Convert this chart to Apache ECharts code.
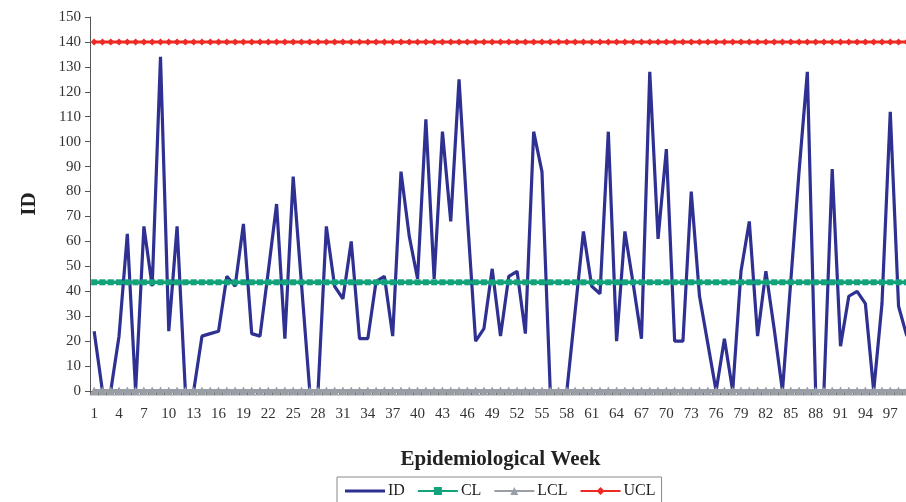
<!DOCTYPE html>
<html>
<head>
<meta charset="utf-8">
<script src="https://cdn.jsdelivr.net/npm/echarts@6/dist/echarts.min.js"></script>
<style>
html,body{margin:0;padding:0;background:#fff;overflow:hidden;}
#wrap{width:906px;height:502px;overflow:hidden;position:relative;}
#chart{width:920px;height:502px;position:absolute;left:0;top:0;}
</style>
</head>
<body>
<div id="wrap"><div id="chart"></div></div>
<script>
var weeks = [];
for (var w = 1; w <= 99; w++) weeks.push(String(w));

var idValues = [
  24, 0, 0, 22, 63, 0, 66, 42, 134, 24,
  66, 0, 0, 22, 23, 24, 46, 42, 67, 23,
  22, 48, 75, 21, 86, 43, 0, 0, 66, 42,
  37, 60, 21, 21, 44, 46, 22, 88, 62, 45,
  109, 45, 104, 68, 125, 70, 20, 25, 49, 22,
  46, 48, 23, 104, 88, 0, 0, 0, 32, 64,
  42, 39, 104, 20, 64, 43, 21, 128, 61, 97,
  20, 20, 80, 38, 19, 0, 21, 0, 48, 68,
  22, 48, 25, 0, 44, 88, 128, 0, 0, 89,
  18, 38, 40, 35, 0, 35, 112, 34, 22
];
var clValue = 43.6;
var lclValue = 0;
var uclValue = 140;
var yTicks = { min: 0, max: 150, interval: 10 };

function constant(v) { return weeks.map(function () { return v; }); }

var serif = '"Liberation Serif","Times New Roman",serif';
var chart = echarts.init(document.getElementById('chart'));
chart.setOption({
  animation: false,
  backgroundColor: '#ffffff',
  grid: { left: 90, right: 9, top: 17, bottom: 111, containLabel: false },
  legend: {
    top: 477,
    left: 337,
    data: [
      { name: 'ID', icon: 'path://M0,0L40,0L40,3.2L0,3.2Z' },
      'CL', 'LCL', 'UCL'
    ],
    itemWidth: 40,
    itemHeight: 10,
    itemGap: 12,
    borderColor: '#8a8a8a',
    borderWidth: 1,
    padding: [6, 6, 10, 8],
    textStyle: { fontFamily: serif, fontSize: 16, color: '#222', padding: [0, 0, 0, -2] }
  },
  xAxis: {
    type: 'category',
    data: weeks,
    boundaryGap: true,
    name: 'Epidemiological Week',
    nameLocation: 'middle',
    nameGap: 58,
    nameTextStyle: { fontFamily: serif, fontSize: 21, fontWeight: 'bold', color: '#222' },
    axisLine: { show: true, lineStyle: { color: '#555', width: 1 } },
    axisTick: { show: true, alignWithLabel: false, interval: 0, length: 4, lineStyle: { color: '#555' } },
    axisLabel: { interval: 2, fontFamily: serif, fontSize: 15, color: '#333', margin: 16 },
    splitLine: { show: false }
  },
  yAxis: {
    type: 'value',
    min: yTicks.min,
    max: yTicks.max,
    interval: yTicks.interval,
    name: 'ID',
    nameLocation: 'middle',
    nameGap: 50,
    nameRotate: 90,
    nameTextStyle: { fontFamily: serif, fontSize: 21, fontWeight: 'bold', color: '#222' },
    axisLine: { show: true, lineStyle: { color: '#555', width: 1 } },
    axisTick: { show: true, length: 5, lineStyle: { color: '#555' } },
    axisLabel: { fontFamily: serif, fontSize: 15, color: '#333', margin: 9 },
    splitLine: { show: false }
  },
  series: [
    {
      name: 'ID', type: 'line', data: idValues,
      showSymbol: false, symbol: 'none',
      lineStyle: { color: '#2e3192', width: 3.2 },
      itemStyle: { color: '#2e3192' },
      z: 3
    },
    {
      name: 'CL', type: 'line', data: constant(clValue),
      symbol: 'rect', symbolSize: 6, showAllSymbol: true,
      lineStyle: { color: '#13a37a', width: 3.5 },
      itemStyle: { color: '#13a37a' },
      z: 4
    },
    {
      name: 'LCL', type: 'line', data: constant(lclValue),
      symbol: 'triangle', symbolSize: 9, showAllSymbol: true,
      lineStyle: { color: '#9a9ea5', width: 4 },
      itemStyle: { color: '#9a9ea5' },
      z: 4
    },
    {
      name: 'UCL', type: 'line', data: constant(uclValue),
      symbol: 'diamond', symbolSize: 7, showAllSymbol: true,
      lineStyle: { color: '#ee2a24', width: 3 },
      itemStyle: { color: '#ee2a24' },
      z: 4
    }
  ]
});
</script>
</body>
</html>
